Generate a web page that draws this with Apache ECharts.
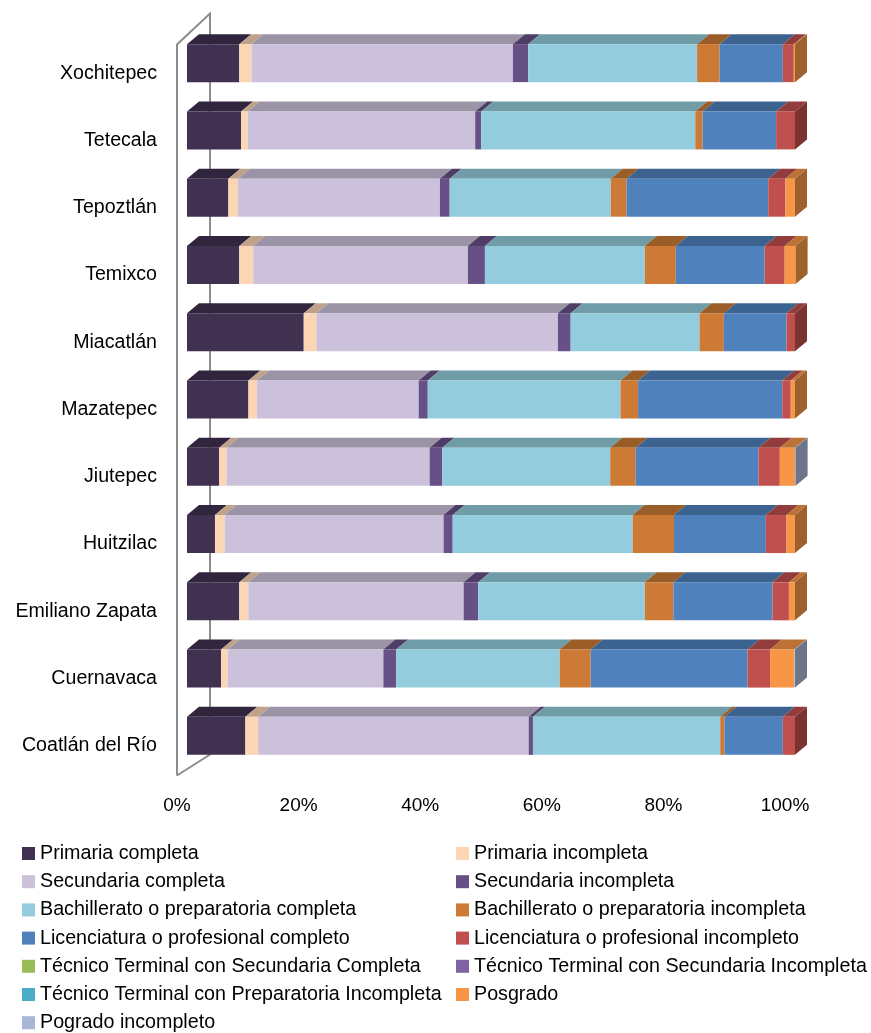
<!DOCTYPE html>
<html>
<head>
<meta charset="utf-8">
<script src="https://cdn.jsdelivr.net/npm/echarts@6/dist/echarts.min.js"></script>
<style>
  html, body { margin: 0; padding: 0; background: #fff; }
  #chart { width: 871px; height: 1033px; }
</style>
</head>
<body>
<div id="chart"></div>
<script>
// municipios, de arriba hacia abajo
const categories = ['Xochitepec', 'Tetecala', 'Tepoztlán', 'Temixco', 'Miacatlán', 'Mazatepec',
  'Jiutepec', 'Huitzilac', 'Emiliano Zapata', 'Cuernavaca', 'Coatlán del Río']

const seriesNames = [
  'Primaria completa', 'Primaria incompleta',
  'Secundaria completa', 'Secundaria incompleta',
  'Bachillerato o preparatoria completa', 'Bachillerato o preparatoria incompleta',
  'Licenciatura o profesional completo', 'Licenciatura o profesional incompleto',
  'Técnico Terminal con Secundaria Completa', 'Técnico Terminal con Secundaria Incompleta',
  'Técnico Terminal con Preparatoria Incompleta', 'Posgrado',
  'Pogrado incompleto'
]

const primariaCompleta = [8.6, 8.9, 6.8, 8.6, 19.2, 10.1, 5.3, 4.6, 8.6, 5.6, 9.6]
const primariaIncompleta = [2.0, 1.1, 1.6, 2.3, 2.1, 1.4, 1.2, 1.6, 1.5, 1.1, 2.1]
const secundariaCompleta = [43.0, 37.4, 33.2, 35.3, 39.7, 26.6, 33.4, 36.0, 35.4, 25.6, 44.5]
const secundariaIncompleta = [2.5, 1.0, 1.6, 2.8, 2.1, 1.5, 2.1, 1.5, 2.4, 2.1, 0.7]
const bachilleratoCompleta = [27.8, 35.2, 26.5, 26.3, 21.2, 31.7, 27.6, 29.6, 27.4, 26.9, 30.8]
const bachilleratoIncompleta = [3.7, 1.2, 2.6, 5.1, 4.0, 2.9, 4.2, 6.8, 4.7, 5.1, 0.7]
const licenciaturaCompleto = [10.4, 12.1, 23.3, 14.6, 10.3, 23.7, 20.2, 15.1, 16.3, 25.8, 9.6]
const licenciaturaIncompleto = [1.8, 3.1, 2.8, 3.3, 1.4, 1.4, 3.5, 3.4, 2.7, 3.7, 2.0]
const tecnicoSecCompleta = [0, 0, 0, 0, 0, 0, 0, 0, 0, 0, 0]
const tecnicoSecIncompleta = [0, 0, 0, 0, 0, 0, 0, 0, 0, 0, 0]
const tecnicoPrepIncompleta = [0, 0, 0, 0, 0, 0, 0, 0, 0, 0, 0]
const posgrado = [0.2, 0, 1.6, 1.8, 0, 0.7, 2.5, 1.4, 1.0, 4.0, 0]
const posgradoIncompleto = [0, 0, 0, 0, 0, 0, 0.1, 0, 0, 0.1, 0]

const xTicks = [0, 20, 40, 60, 80, 100]

const values = [
  primariaCompleta, primariaIncompleta, secundariaCompleta, secundariaIncompleta,
  bachilleratoCompleta, bachilleratoIncompleta, licenciaturaCompleto, licenciaturaIncompleto,
  tecnicoSecCompleta, tecnicoSecIncompleta, tecnicoPrepIncompleta, posgrado, posgradoIncompleto
]

const colors = ['#403151', '#FCD5B5', '#CCC1DA', '#675086', '#93CDDD', '#CC7A35',
  '#4F81BD', '#C0504D', '#9BBB59', '#8064A2', '#4BACC6', '#F79646', '#A8B7D6']

// estilo 3d (desplazamiento de la cara frontal y profundidad)
const SHIFT = 10
const DEPTH_X = 12
const DEPTH_Y = 10
const GRID_LEFT = 177
const GRID_TOP = 39.5
const GRID_W = 608
const GRID_H = 740

function shade(hex, k) {
  const n = parseInt(hex.slice(1), 16)
  const r = Math.round(((n >> 16) & 255) * k)
  const g = Math.round(((n >> 8) & 255) * k)
  const b = Math.round((n & 255) * k)
  return 'rgb(' + r + ',' + g + ',' + b + ')'
}

// ultimo segmento no nulo de cada barra (lleva la cara lateral)
const lastIdx = categories.map((_, c) => {
  let last = 0
  values.forEach((arr, s) => { if (arr[c] > 0) last = s })
  return last
})

const series = seriesNames.map((name, s) => {
  const data = categories.map((_, c) => {
    let start = 0
    for (let k = 0; k < s; k++) start += values[k][c]
    return [c, start, start + values[s][c], lastIdx[c] === s ? 1 : 0]
  })
  return {
    name,
    type: 'custom',
    coordinateSystem: 'cartesian2d',
    itemStyle: { color: colors[s] },
    encode: { x: [1, 2], y: 0 },
    data,
    renderItem(params, api) {
      const cat = api.value(0)
      const start = api.value(1)
      const end = api.value(2)
      if (end - start <= 0) return
      const p0 = api.coord([start, cat])
      const p1 = api.coord([end, cat])
      const h = api.size([0, 1])[1] * 0.565
      const x0 = p0[0] + SHIFT
      const x1 = p1[0] + SHIFT
      const yT = p0[1] - SHIFT - h / 2
      const yB = yT + h
      const col = colors[s]
      const children = [
        {
          type: 'polygon',
          shape: { points: [[x0, yT], [x1, yT], [x1 + DEPTH_X, yT - DEPTH_Y], [x0 + DEPTH_X, yT - DEPTH_Y]] },
          style: { fill: shade(col, 0.76) }
        },
        {
          type: 'rect',
          shape: { x: x0, y: yT, width: x1 - x0, height: h },
          style: { fill: col }
        }
      ]
      if (api.value(3) === 1) {
        children.push({
          type: 'polygon',
          shape: { points: [[x1, yT], [x1 + DEPTH_X, yT - DEPTH_Y], [x1 + DEPTH_X, yB - DEPTH_Y], [x1, yB]] },
          style: { fill: shade(col, 0.64) }
        })
      }
      return { type: 'group', children }
    }
  }
})

const chart = echarts.init(document.getElementById('chart'))

const legendText = {
  fontFamily: 'Liberation Sans, Arial, sans-serif',
  fontSize: 19.7,
  color: '#000'
}

const option = {
  animation: false,
  backgroundColor: '#fff',
  grid: { left: GRID_LEFT, top: GRID_TOP, width: GRID_W, height: GRID_H },
  legend: [
    {
      data: seriesNames.filter((_, i) => i % 2 === 0),
      orient: 'vertical', left: 22, top: 843.5,
      icon: 'rect', itemWidth: 13, itemHeight: 13, itemGap: 8.2,
      padding: 0,
      textStyle: legendText, selectedMode: false
    },
    {
      data: seriesNames.filter((_, i) => i % 2 === 1),
      orient: 'vertical', left: 456, top: 843.5,
      icon: 'rect', itemWidth: 13, itemHeight: 13, itemGap: 8.2,
      padding: 0,
      textStyle: legendText, selectedMode: false
    }
  ],
  xAxis: {
    type: 'value',
    min: xTicks[0],
    max: xTicks[xTicks.length - 1],
    interval: xTicks[1] - xTicks[0],
    axisLine: { show: false },
    axisTick: { show: false },
    splitLine: { show: false },
    axisLabel: {
      formatter: '{value}%',
      margin: 17,
      fontFamily: 'Liberation Sans, Arial, sans-serif',
      fontSize: 19,
      color: '#000'
    }
  },
  yAxis: {
    type: 'category',
    inverse: true,
    data: categories,
    axisLine: { show: false },
    axisTick: { show: false },
    splitLine: { show: false },
    axisLabel: {
      margin: 20,
      fontFamily: 'Liberation Sans, Arial, sans-serif',
      fontSize: 19.6,
      color: '#000'
    }
  },
  // pared lateral del grafico 3d
  graphic: [{
    type: 'polyline',
    z: -1,
    silent: true,
    shape: {
      points: [
        [GRID_LEFT, GRID_TOP + GRID_H - 4],
        [GRID_LEFT, GRID_TOP + 5],
        [GRID_LEFT + 33, GRID_TOP - 26],
        [GRID_LEFT + 33, GRID_TOP + GRID_H - 25],
        [GRID_LEFT, GRID_TOP + GRID_H - 4]
      ]
    },
    style: { stroke: '#8c8c8c', lineWidth: 2, fill: null }
  }],
  series
}

chart.setOption(option)
</script>
</body>
</html>
